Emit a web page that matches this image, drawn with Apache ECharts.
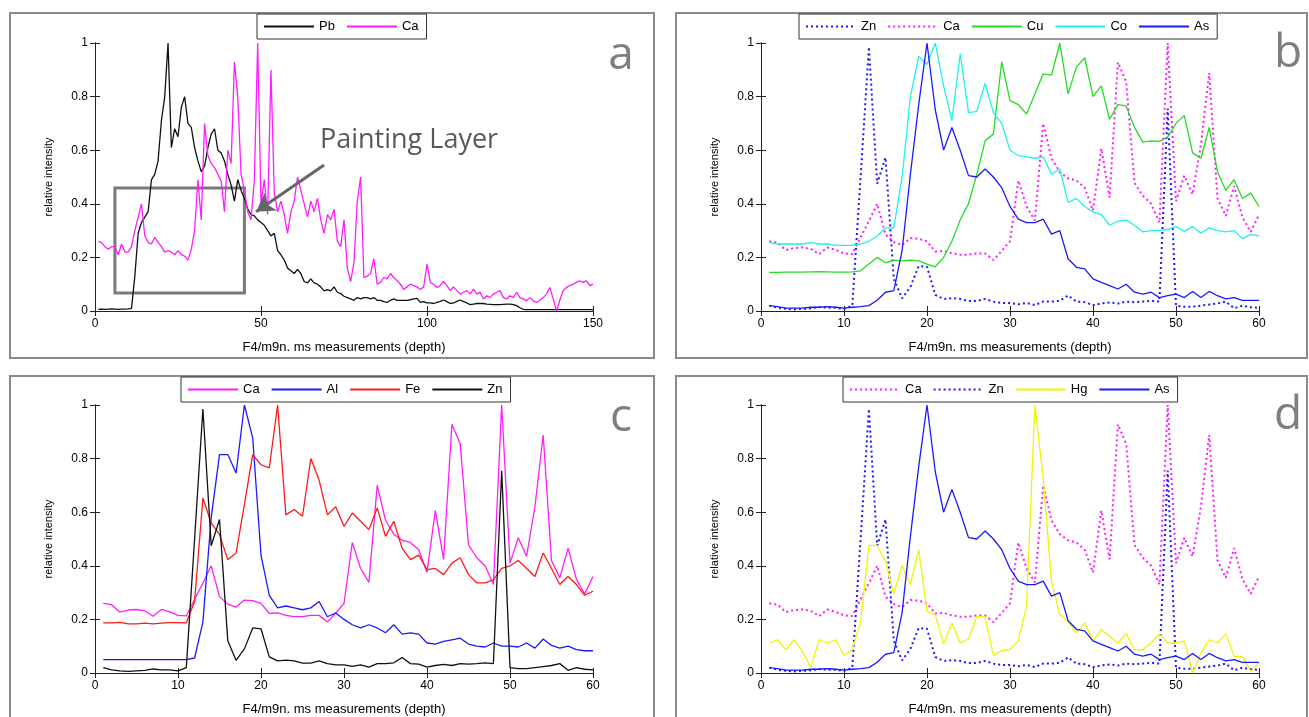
<!DOCTYPE html>
<html><head><meta charset="utf-8">
<script src="https://cdn.jsdelivr.net/npm/echarts@6/dist/echarts.min.js"></script>
<style>html,body{margin:0;padding:0;background:#fff}#c{width:1309px;height:717px}</style>
</head><body><div id="c"></div>
<script>
// ---------- data (x = 1..N) ----------
const pbA = [
0.006,0.007,0.006,0.007,0.008,0.007,0.006,0.007,0.007,0.008,
0.010,0.130,0.290,0.330,0.350,0.370,0.490,0.510,0.560,0.710,
0.800,1.000,0.610,0.680,0.650,0.760,0.800,0.700,0.685,0.610,
0.560,0.520,0.540,0.610,0.660,0.680,0.600,0.590,0.560,0.510,
0.470,0.410,0.490,0.450,0.420,0.380,0.360,0.355,0.340,0.330,
0.320,0.300,0.280,0.290,0.225,0.210,0.190,0.160,0.150,0.140,
0.155,0.140,0.110,0.105,0.120,0.105,0.100,0.090,0.075,0.080,
0.075,0.090,0.070,0.065,0.055,0.050,0.045,0.040,0.050,0.045,
0.050,0.050,0.045,0.050,0.040,0.040,0.035,0.032,0.040,0.045,
0.040,0.040,0.040,0.040,0.042,0.045,0.047,0.032,0.035,0.030,
0.030,0.028,0.032,0.036,0.041,0.035,0.028,0.030,0.036,0.041,
0.035,0.030,0.024,0.026,0.028,0.028,0.028,0.026,0.025,0.024,
0.024,0.024,0.025,0.026,0.026,0.024,0.020,0.012,0.006,0.005,
0.005,0.005,0.005,0.005,0.005,0.005,0.005,0.005,0.005,0.005,
0.005,0.005,0.005,0.005,0.005,0.005,0.005,0.005,0.005,0.005];
const caA = [
0.260,0.255,0.240,0.230,0.240,0.240,0.210,0.250,0.220,0.220,
0.240,0.300,0.350,0.400,0.280,0.256,0.250,0.275,0.256,0.240,
0.220,0.225,0.220,0.210,0.225,0.210,0.205,0.190,0.230,0.300,
0.490,0.340,0.700,0.580,0.550,0.535,0.510,0.485,0.370,0.600,
0.550,0.930,0.800,0.510,0.450,0.370,0.340,0.490,1.000,0.400,
0.490,0.360,0.900,0.440,0.370,0.410,0.360,0.290,0.370,0.410,
0.500,0.450,0.400,0.350,0.410,0.370,0.420,0.340,0.290,0.360,
0.340,0.380,0.260,0.240,0.340,0.160,0.110,0.180,0.410,0.500,
0.125,0.130,0.140,0.195,0.100,0.107,0.125,0.120,0.140,0.125,
0.113,0.100,0.080,0.090,0.100,0.095,0.090,0.080,0.090,0.175,
0.107,0.100,0.088,0.095,0.110,0.095,0.076,0.090,0.076,0.063,
0.070,0.076,0.063,0.082,0.063,0.070,0.045,0.057,0.050,0.063,
0.070,0.076,0.050,0.045,0.057,0.050,0.070,0.050,0.045,0.038,
0.050,0.038,0.032,0.040,0.050,0.063,0.088,0.045,0.000,0.040,
0.076,0.088,0.095,0.100,0.107,0.113,0.107,0.113,0.095,0.100];
const ca60 = [
0.260,0.255,0.227,0.235,0.237,0.232,0.212,0.237,0.228,0.215,
0.213,0.275,0.335,0.400,0.285,0.257,0.246,0.272,0.270,0.260,
0.222,0.224,0.215,0.210,0.210,0.215,0.215,0.190,0.224,0.260,
0.487,0.390,0.338,0.700,0.570,0.518,0.495,0.487,0.460,0.375,
0.606,0.424,0.928,0.855,0.478,0.430,0.400,0.330,1.000,0.410,
0.505,0.435,0.620,0.888,0.420,0.355,0.466,0.350,0.295,0.360];
const zn60 = [
0.020,0.012,0.008,0.006,0.008,0.010,0.015,0.012,0.012,0.008,
0.020,0.500,0.985,0.475,0.573,0.120,0.047,0.090,0.168,0.165,
0.060,0.045,0.048,0.045,0.037,0.037,0.045,0.035,0.030,0.030,
0.025,0.030,0.022,0.035,0.035,0.038,0.058,0.035,0.033,0.022,
0.028,0.032,0.028,0.035,0.033,0.035,0.038,0.035,0.755,0.020,
0.016,0.016,0.020,0.024,0.028,0.035,0.010,0.020,0.014,0.012];
const cu60 = [
0.144,0.144,0.145,0.145,0.145,0.146,0.147,0.146,0.145,0.145,
0.146,0.150,0.175,0.200,0.180,0.190,0.187,0.190,0.187,0.175,
0.165,0.200,0.260,0.340,0.400,0.510,0.635,0.660,0.930,0.785,
0.770,0.735,0.810,0.885,0.880,1.000,0.810,0.910,0.945,0.800,
0.840,0.715,0.770,0.765,0.685,0.630,0.635,0.633,0.650,0.700,
0.730,0.590,0.570,0.685,0.520,0.450,0.490,0.420,0.440,0.390];
const co60 = [
0.255,0.250,0.250,0.250,0.250,0.255,0.250,0.250,0.245,0.245,
0.245,0.250,0.260,0.280,0.310,0.310,0.500,0.800,0.950,0.920,
1.000,0.840,0.710,0.960,0.740,0.745,0.850,0.740,0.700,0.600,
0.580,0.575,0.570,0.575,0.510,0.530,0.405,0.420,0.390,0.370,
0.360,0.320,0.335,0.340,0.320,0.295,0.300,0.300,0.305,0.315,
0.297,0.315,0.290,0.310,0.300,0.295,0.300,0.270,0.285,0.280];
const as60 = [
0.020,0.016,0.011,0.011,0.011,0.014,0.014,0.016,0.014,0.011,
0.014,0.016,0.020,0.040,0.070,0.076,0.225,0.510,0.770,1.000,
0.750,0.600,0.685,0.600,0.505,0.500,0.530,0.500,0.460,0.390,
0.343,0.330,0.330,0.343,0.287,0.300,0.195,0.163,0.157,0.120,
0.107,0.095,0.082,0.100,0.070,0.063,0.070,0.050,0.057,0.063,
0.050,0.073,0.050,0.073,0.057,0.045,0.050,0.040,0.040,0.040];
const al60 = [
0.050,0.050,0.050,0.050,0.050,0.050,0.050,0.050,0.050,0.050,
0.050,0.056,0.190,0.580,0.815,0.815,0.746,1.000,0.877,0.440,
0.290,0.243,0.250,0.243,0.236,0.243,0.267,0.210,0.224,0.200,
0.180,0.168,0.180,0.168,0.150,0.180,0.145,0.150,0.145,0.112,
0.108,0.118,0.124,0.130,0.108,0.100,0.097,0.112,0.100,0.100,
0.097,0.112,0.093,0.127,0.103,0.093,0.100,0.087,0.083,0.083];
const fe60 = [
0.187,0.187,0.189,0.183,0.183,0.186,0.183,0.186,0.188,0.188,
0.187,0.267,0.653,0.560,0.516,0.423,0.448,0.628,0.815,0.777,
0.765,1.000,0.590,0.610,0.585,0.800,0.720,0.590,0.620,0.547,
0.597,0.566,0.535,0.616,0.510,0.566,0.466,0.423,0.440,0.386,
0.390,0.367,0.410,0.430,0.367,0.336,0.336,0.348,0.390,0.400,
0.420,0.390,0.360,0.448,0.390,0.330,0.360,0.330,0.290,0.305];
const hg60 = [
0.112,0.124,0.087,0.124,0.080,0.020,0.124,0.112,0.124,0.066,
0.087,0.190,0.476,0.476,0.417,0.295,0.400,0.330,0.460,0.230,
0.218,0.108,0.187,0.112,0.127,0.210,0.210,0.066,0.083,0.087,
0.120,0.250,1.000,0.727,0.342,0.218,0.193,0.150,0.187,0.118,
0.162,0.137,0.112,0.147,0.087,0.087,0.112,0.146,0.112,0.112,
0.120,0.000,0.075,0.124,0.112,0.146,0.062,0.062,0.006,0.037];

const panelLetters = ['a','b','c','d'];
const xAxisTitle = 'F4/m9n. ms measurements (depth)';
const yAxisTitle = 'relative intensity';
const legendA = ['Pb','Ca'];
const legendB = ['Zn','Ca','Cu','Co','As'];
const legendC = ['Ca','Al','Fe','Zn'];
const legendD = ['Ca','Zn','Hg','As'];
// annotation (data coordinates of panel a)
const boxA = [[6,0.067],[45,0.459]];
const arrowA = [[69,0.545],[48.5,0.37]];

// ---------- styles ----------
const COL = {k:'#111111', m:'#ff1cff', b:'#1a1aff', g:'#22dd22', c:'#1ff0f0', r:'#ff1a1a', y:'#f2f200'};
const FONT = 'Liberation Sans, Arial, sans-serif';
const grids = [
  {left:95, top:43, width:498, height:268},
  {left:761, top:43, width:498, height:268},
  {left:95, top:405, width:498, height:269},
  {left:761, top:405, width:498, height:269}
];
const xMax = [150,60,60,60], xInt = [50,10,10,10];

const xAxes = [], yAxes = [];
grids.forEach((g,i)=>{
  const line = {show:true, lineStyle:{color:'#222', width:1}};
  const tick = {show:true, inside:true, length:5, lineStyle:{color:'#222'}};
  xAxes.push({gridIndex:i, type:'value', min:0, max:xMax[i], interval:xInt[i], position:'bottom',
    axisLine:line, axisTick:tick, splitLine:{show:false},
    axisLabel:{color:'#000', fontSize:12, fontFamily:FONT, margin:7},
    name:xAxisTitle, nameLocation:'middle', nameGap:30,
    nameTextStyle:{color:'#000', fontSize:13, fontFamily:FONT}});
  xAxes.push({gridIndex:i, type:'value', min:0, max:xMax[i], interval:xInt[i], position:'top',
    axisLine:line, axisTick:tick, splitLine:{show:false}, axisLabel:{show:false}});
  yAxes.push({gridIndex:i, type:'value', min:0, max:1, interval:0.2, position:'left',
    axisLine:line, axisTick:tick, splitLine:{show:false},
    axisLabel:{color:'#000', fontSize:12, fontFamily:FONT, margin:7},
    name:yAxisTitle, nameLocation:'middle', nameGap:41, nameRotate:90,
    nameTextStyle:{color:'#000', fontSize:11, fontFamily:FONT}});
  yAxes.push({gridIndex:i, type:'value', min:0, max:1, interval:0.2, position:'right',
    axisLine:line, axisTick:tick, splitLine:{show:false}, axisLabel:{show:false}});
});

const pts = arr => arr.map((v,i)=>[i+1, v]);
function mk(panel, name, arr, color, dotted, extra){
  const s = {
    name: panel + ':' + name, type:'line', xAxisIndex: 'abcd'.indexOf(panel)*2,
    yAxisIndex: 'abcd'.indexOf(panel)*2, data: pts(arr), symbol:'none', silent:true,
    lineStyle:{color:color, width: dotted ? 2 : 1.3, type: dotted ? [2,3] : 'solid'},
    itemStyle:{color:color}
  };
  return Object.assign(s, extra||{});
}

const series = [
  mk('a','Pb',pbA,COL.k,false,{
    markArea:{silent:true, itemStyle:{color:'rgba(0,0,0,0)', borderColor:'#7a7a7a', borderWidth:3},
      data:[[{coord:boxA[0]},{coord:boxA[1]}]]},
    markLine:{silent:true, symbol:['none','arrow'], symbolSize:[16,18], label:{show:false},
      lineStyle:{color:'#666', width:3, type:'solid'},
      data:[[{coord:arrowA[0]},{coord:arrowA[1]}]]}
  }),
  mk('a','Ca',caA,COL.m,false),
  mk('b','Zn',zn60,COL.b,true),
  mk('b','Ca',ca60,COL.m,true),
  mk('b','Cu',cu60,COL.g,false),
  mk('b','Co',co60,COL.c,false),
  mk('b','As',as60,COL.b,false),
  mk('c','Ca',ca60,COL.m,false),
  mk('c','Al',al60,COL.b,false),
  mk('c','Fe',fe60,COL.r,false),
  mk('c','Zn',zn60,COL.k,false),
  mk('d','Ca',ca60,COL.m,true),
  mk('d','Zn',zn60,COL.b,true),
  mk('d','Hg',hg60,COL.y,false),
  mk('d','As',as60,COL.b,false)
];

function legend(panel, names, left, top){
  return {data:names.map(n=>panel+':'+n), left:left, top:top, orient:'horizontal',
    itemWidth:50, itemHeight:14, itemGap:11, padding:[6,8,6,6],
    borderColor:'#333', borderWidth:1, backgroundColor:'#fff',
    itemStyle:{opacity:0, borderWidth:0},
    formatter: n => n.split(':')[1], selectedMode:false,
    textStyle:{color:'#000', fontSize:13, fontFamily:FONT}};
}

const frameStyle = {fill:'none', stroke:'#8a8a8a', lineWidth:2};
const letterStyle = (t,x,y)=>({type:'text', x:x, y:y, style:{text:t, fill:'#7f7f7f',
  font:'46px "Open Sans", sans-serif', align:'center', verticalAlign:'middle'}, z:10});

const option = {
  animation:false,
  backgroundColor:'#fff',
  grid: grids,
  xAxis: xAxes,
  yAxis: yAxes,
  legend: [legend('a',legendA,257,14), legend('b',legendB,799,14), legend('c',legendC,181,377), legend('d',legendD,843,377)],
  series: series,
  graphic: [
    {type:'rect', shape:{x:10,y:13,width:644,height:345}, style:frameStyle, z:-10, silent:true},
    {type:'rect', shape:{x:676,y:13,width:631,height:345}, style:frameStyle, z:-10, silent:true},
    {type:'rect', shape:{x:10,y:376,width:644,height:345}, style:frameStyle, z:-10, silent:true},
    {type:'rect', shape:{x:676,y:376,width:631,height:345}, style:frameStyle, z:-10, silent:true},
    letterStyle(panelLetters[0],621,56),
    letterStyle(panelLetters[1],1288,54),
    letterStyle(panelLetters[2],621,418),
    letterStyle(panelLetters[3],1288,416),
    {type:'text', x:320, y:140, style:{text:'Painting Layer', fill:'#595959',
      font:'27px "Open Sans", sans-serif', align:'left', verticalAlign:'middle'}, z:10}
  ]
};
const chart = echarts.init(document.getElementById('c'), null, {renderer:'canvas'});
chart.setOption(option);
</script></body></html>
